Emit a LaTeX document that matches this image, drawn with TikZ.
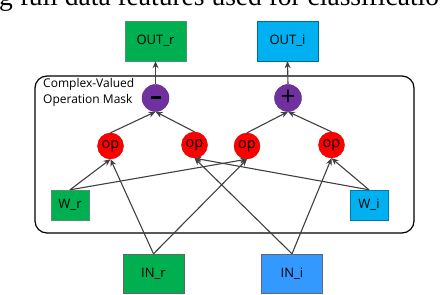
\documentclass[tikz,border=0pt]{standalone}
\usepackage{fontspec}
\setmainfont{Open Sans}
\newfontfamily\capfont{Liberation Serif}
\usepackage{xcolor}
\usepackage{tikz}
\usetikzlibrary{arrows.meta,positioning,calc}
\definecolor{realgreen}{HTML}{00B050}
\definecolor{imagblue}{HTML}{00B0F0}
\definecolor{inblue}{HTML}{3399FF}
\definecolor{sumpurple}{HTML}{7030A0}
\definecolor{opred}{HTML}{FF0000}
\definecolor{linegray}{HTML}{404040}

\begin{document}
\begin{tikzpicture}[x=1pt,y=1pt,
        box/.style={rectangle, inner sep=0pt, minimum width=61pt, minimum height=40pt, font=\fontsize{13}{15}\selectfont},
        wbox/.style={box, minimum width=38pt, minimum height=30pt},
        opc/.style={circle, inner sep=0pt, minimum size=26pt, fill=opred, draw=opred!80!black, font=\fontsize{14.5}{16}\selectfont},
        sgn/.style={circle, inner sep=0pt, minimum size=27pt, fill=sumpurple, draw=sumpurple!80!black},
        flow/.style={draw=linegray, line width=1.1pt, -{Stealth[length=7pt,width=6pt]}},
        tiny/.style={font=\fontsize{12}{16}\selectfont, align=left, inner sep=0pt}]
        \useasboundingbox (0,0) rectangle (446,294);
        % caption line cut by the top edge
        \node[anchor=base west, inner sep=0pt] (cap) at (-1,288) {\capfont\fontsize{27.5}{30}\selectfont g full data features used for classificatio};
        % mask frame
        \draw[line width=1.2pt, rounded corners=12pt] (35,61) rectangle (414,218);
        \node[tiny, anchor=north west] (mask) at (43,216) {Complex-Valued\\Operation Mask};
        % outputs and combiners
        \node[box, fill=realgreen, draw=realgreen!60!black!70] (outr) at (155.5,253) {OUT\_r};
        \node[box, fill=imagblue, draw=imagblue!60!black] (outi) at (287.5,253) {OUT\_i};
        \node[sgn] (minus) at (155.5,196) {\rule{10pt}{3pt}};
        \node[sgn] (plus) at (288,196) {\fontsize{26}{26}\selectfont +};
        % products
        \node[opc] (op1) at (110.5,148) {op};
        \node[opc] (op2) at (194.5,149) {op};
        \node[opc] (op3) at (247,148) {op};
        \node[opc] (op4) at (331.5,149) {op};
        % weights and inputs
        \node[wbox, fill=realgreen, draw=realgreen!60!black!70] (wr) at (70,89) {W\_r};
        \node[wbox, fill=imagblue, draw=imagblue!70!black] (wi) at (369,89) {W\_i};
        \node[box, minimum height=39pt, fill=realgreen, draw=black!60] (inr) at (153.5,20.5) {IN\_r};
        \node[box, minimum height=39pt, fill=inblue, draw=black!60] (ini) at (292,20.5) {IN\_i};
        % connectors
        \draw[flow] (minus.north) -- (outr.south);
        \draw[flow] (plus.north) -- (outi.south);
        \draw[flow] (op1.north) -- (minus.south);
        \draw[flow] (op2.north) -- (minus.south);
        \draw[flow] (op3.north) -- (plus.south);
        \draw[flow] (op4.north) -- (plus.south);
        \draw[flow] (wr.north) -- (op1.south);
        \draw[flow] (wr.north) -- (op3.south);
        \draw[flow] (wi.north) -- (op2.south);
        \draw[flow] (wi.north) -- (op4.south);
        \draw[flow] (inr.north) -- (op1.south);
        \draw[flow] (inr.north) -- (op3.south);
        \draw[flow] (ini.north) -- (op2.south);
        \draw[flow] (ini.north) -- (op4.south);
      \end{tikzpicture}
\end{document}
